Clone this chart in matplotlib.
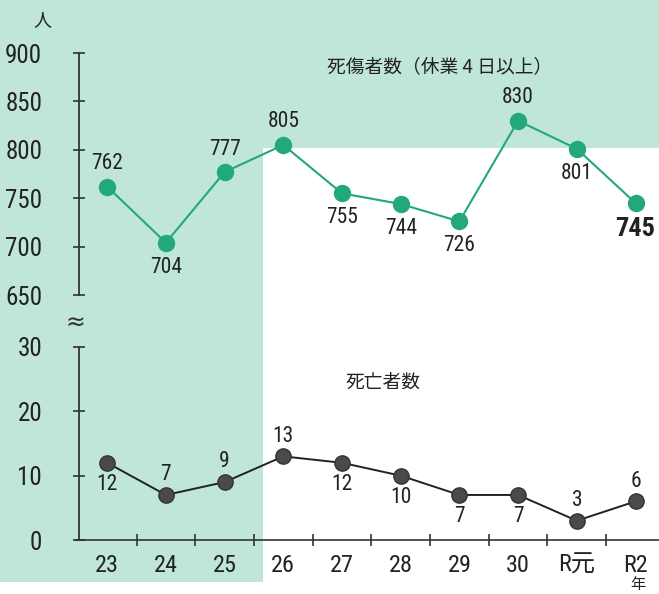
import matplotlib
matplotlib.use("Agg")
import matplotlib.pyplot as plt
from matplotlib.patches import Rectangle
from matplotlib import font_manager

categories = ["23", "24", "25", "26", "27", "28", "29", "30", "R元", "R2"]
injuries = [762, 704, 777, 805, 755, 744, 726, 830, 801, 745]
deaths = [12, 7, 9, 13, 12, 10, 7, 7, 3, 6]
inj_pos = ["above", "below", "above", "above", "below", "below", "below", "above", "below", "below"]
death_pos = ["below", "above", "above", "above", "below", "below", "below", "below", "above", "above"]

avail = {f.name for f in font_manager.fontManager.ttflist}
num_font = "Liberation Sans"
for cand in ["Roboto Condensed", "Open Sans Condensed", "Liberation Sans Narrow", "DejaVu Sans Condensed"]:
    if cand in avail:
        num_font = cand
        break
FAM = [num_font, "Noto Sans CJK JP", "DejaVu Sans"]
JP = ["Noto Sans CJK JP", "DejaVu Sans"]
plt.rcParams["font.family"] = FAM

W, H = 659, 594
fig = plt.figure(figsize=(W / 100, H / 100), dpi=100)
fig.patch.set_facecolor("white")

GREEN_BG = "#bfe6d6"
bg = fig.add_axes([0, 0, 1, 1], zorder=-10)
bg.set_xlim(0, W)
bg.set_ylim(H, 0)
bg.axis("off")
bg.add_patch(Rectangle((0, 0), 263, 582, facecolor=GREEN_BG, edgecolor="none"))
bg.add_patch(Rectangle((0, 0), W, 148, facecolor=GREEN_BG, edgecolor="none"))

x = list(range(len(categories)))
xl = (-0.48, 9.40)
left = 79 / W
width = 1 - left

ax1 = fig.add_axes([left, 1 - 295 / H, width, (295 - 53) / H])
ax2 = fig.add_axes([left, 1 - 540 / H, width, (540 - 347) / H])

for ax in (ax1, ax2):
    ax.set_facecolor("none")
    ax.set_xlim(*xl)
    for s in ("top", "right"):
        ax.spines[s].set_visible(False)
    ax.spines["left"].set_color("#333333")
    ax.spines["left"].set_linewidth(1.3)
    ax.tick_params(axis="y", direction="inout", length=9, width=1.2, colors="#333333",
                   labelsize=18, pad=22, labelcolor="#222222")

# upper panel
ax1.spines["bottom"].set_visible(False)
ax1.set_ylim(650, 900)
ax1.set_yticks([650, 700, 750, 800, 850, 900])
ax1.set_xticks([])
GREEN = "#23a87c"
ax1.plot(x, injuries, color=GREEN, lw=1.5, marker="o", ms=11.5, mfc=GREEN, mec=GREEN,
         zorder=3, clip_on=False)
for i, (v, p) in enumerate(zip(injuries, inj_pos)):
    last = i == len(injuries) - 1
    dy = 9 if p == "above" else -10
    ax1.annotate(str(v), (i, v), xytext=(0, dy), textcoords="offset points",
                 ha="center", va="bottom" if p == "above" else "top",
                 fontsize=19 if last else 15.5, fontweight="bold" if last else "normal",
                 color="#222222")
fig.text(327 / W, 1 - 67 / H, "死傷者数（休業 4 日以上）", fontsize=13.5, family=JP,
         color="#222222", va="center", ha="left")

# lower panel
ax2.set_ylim(0, 30)
ax2.set_yticks([0, 10, 20, 30])
ax2.spines["bottom"].set_color("#333333")
ax2.spines["bottom"].set_linewidth(1.2)
ax2.spines["bottom"].set_bounds(-0.53, xl[1])
ax2.set_xticks([i + 0.5 for i in range(9)])
ax2.set_xticks(x, minor=True)
ax2.set_xticklabels(categories, minor=True)
ax2.tick_params(axis="x", which="major", direction="inout", length=8, width=1.2,
                colors="#333333", labelbottom=False)
ax2.tick_params(axis="x", which="minor", length=0, labelsize=17.5, pad=10, labelcolor="#222222")
for lab in ax2.get_xticklabels(minor=True):
    lab.set_family(FAM)
DARK = "#4a4a4a"
ax2.plot(x, deaths, color="#222222", lw=1.4, marker="o", ms=11, mfc=DARK, mec="#333333",
         zorder=3, clip_on=False)
for i, (v, p) in enumerate(zip(deaths, death_pos)):
    dy = 7 if p == "above" else -8
    ax2.annotate(str(v), (i, v), xytext=(0, dy), textcoords="offset points",
                 ha="center", va="bottom" if p == "above" else "top",
                 fontsize=15.5, color="#222222")
fig.text(345 / W, 1 - 382 / H, "死亡者数", fontsize=13.5, family=JP,
         color="#222222", va="center", ha="left")

fig.text(42 / W, 1 - 20 / H, "人", fontsize=13, family=JP,
         ha="center", va="center", color="#222222")
fig.text(75 / W, 1 - 323 / H, "≈", fontsize=17, family=["DejaVu Sans"],
         ha="center", va="center", color="#333333")
fig.text(638 / W, 1 - 585 / H, "年", fontsize=11, family=JP,
         ha="center", va="center", color="#222222")

fig.savefig("out.png", dpi=100)
